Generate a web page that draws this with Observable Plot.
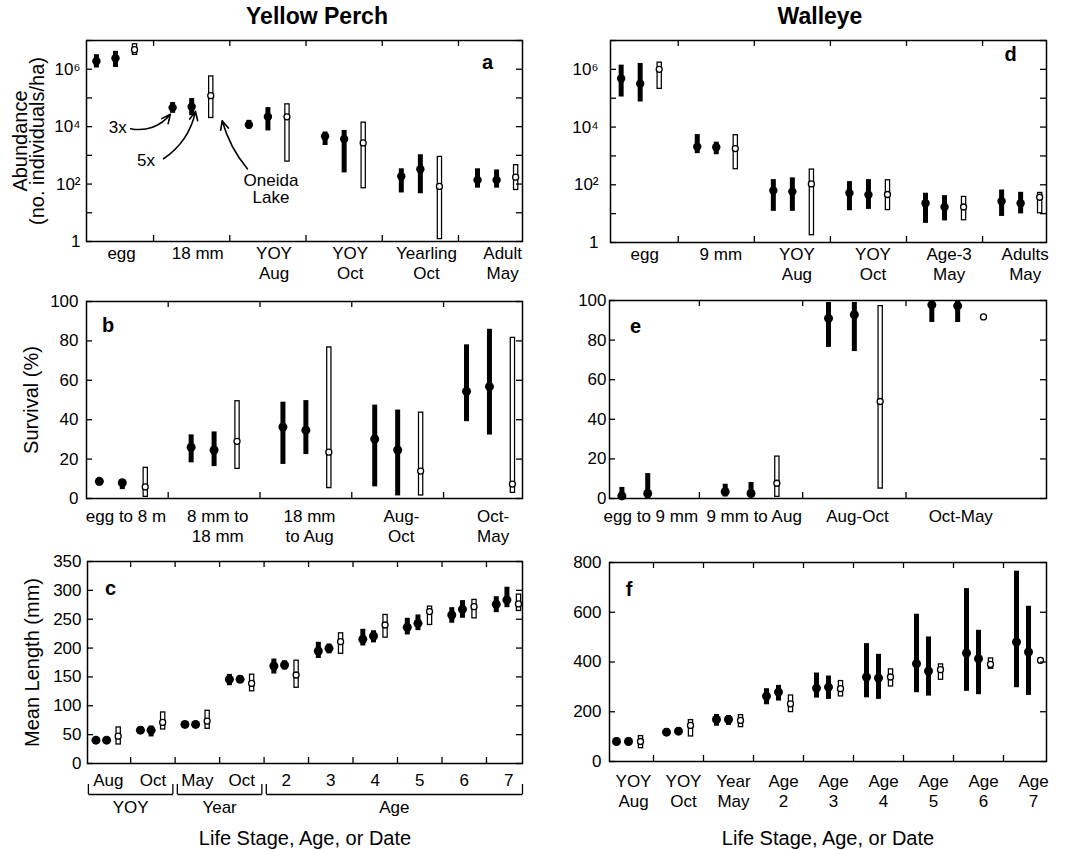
<!DOCTYPE html>
<html><head><meta charset="utf-8">
<script src="https://cdn.jsdelivr.net/npm/d3@7"></script>
<script src="https://cdn.jsdelivr.net/npm/@observablehq/plot@0.6"></script>
<style>
body{margin:0;background:#fff;font-family:"Liberation Sans",Arial,sans-serif;}
#root{position:relative;width:1070px;height:850px;overflow:hidden;}
.title{position:absolute;top:3px;font-weight:bold;font-size:23px;transform:translateX(-50%);white-space:nowrap;}
</style></head><body><div id="root">
<div class="title" style="left:317px">Yellow Perch</div>
<div class="title" style="left:820px">Walleye</div>
</div>
<script>
// ---------- DATA (value, low, high) ----------
const seriesNames = ["3x", "5x", "Oneida Lake"];

// (a) Yellow perch abundance
const perchAbundGroups = ["egg","18 mm","YOY\nAug","YOY\nOct","Yearling\nOct","Adult\nMay"];
const perchAbund3x = [[1.9e6,1.1e6,3.2e6],[4.6e4,2.9e4,6.9e4],[1.17e4,8.3e3,1.66e4],[4.6e3,2.2e3,6.5e3],[186,49,340],[138,72,340]];
const perchAbund5x = [[2.4e6,1.15e6,4.2e6],[4.9e4,2.4e4,9.5e4],[2.2e4,7.1e3,4.6e4],[3.7e3,245,7.4e3],[330,46,1050],[138,72,310]];
const perchAbundOneida = [[4.8e6,3.0e6,7.8e6],[1.2e5,1.9e4,5.9e5],[2.2e4,575,6.3e4],[2.7e3,68,1.45e4],[83,1.15,930],[174,59,480]];

// (d) Walleye abundance
const walleyeAbundGroups = ["egg","9 mm","YOY\nAug","YOY\nOct","Age-3\nMay","Adults\nMay"];
const walleyeAbund3x = [[4.8e5,1.1e5,1.4e6],[2.1e3,1.2e3,5.5e3],[63,12,151],[52,12.6,129],[23,4.6,51],[27,8,66]];
const walleyeAbund5x = [[3.2e5,7.4e4,1.6e6],[2.0e3,1.1e3,3.0e3],[58,12,174],[45,14,151],[17,5.6,42],[23,9.8,55]];
const walleyeAbundOneida = [[1.0e6,2.0e5,1.8e6],[1.8e3,330,5.5e3],[107,1.7,355],[46,12.6,151],[17,5.6,40],[37,9.8,55]];

// (b) Yellow perch survival
const perchSurvGroups = ["egg to 8 m","8 mm to\n18 mm","18 mm\nto Aug","Aug-\nOct","Oct-\nMay"];
const perchSurv3x = [[8.7,6.4,10],[26,18.1,32.3],[36.3,17.3,48.9],[30.2,5.9,47.4],[54.4,39,78]];
const perchSurv5x = [[8.0,4.5,9.5],[24.6,16.2,33.8],[34.7,22.3,49.7],[24.6,1.3,44.9],[56.8,32.2,85.9]];
const perchSurvOneida = [[5.9,0.5,15.9],[29,14.7,49.7],[23.5,5,77],[13.9,1.2,43.9],[7.3,2.5,81.9]];

// (e) Walleye survival
const walleyeSurvGroups = ["egg to 9 mm","9 mm to Aug","Aug-Oct","Oct-May"];
const walleyeSurv3x = [[1.3,0,5.6],[3.4,0.8,7.2],[91,76.3,99],[97.8,88.9,100]];
const walleyeSurv5x = [[2.5,0,12.6],[2.5,0.5,8.1],[92.8,74.2,99],[97.3,88.9,100]];
const walleyeSurvOneida = [null,[7.7,0.5,21.5],[49,4.7,97.5],[91.7,null,null]];

// (c) Yellow perch mean length
const perchLenGroups = ["Aug","Oct","May","Oct","2","3","4","5","6","7"];
const perchLenBrackets = [{label:"YOY", first:0, last:1},{label:"Year", first:2, last:3},{label:"Age", first:4, last:9}];
const perchLen3x = [[40.5,34.7,44.5],[57.8,50.9,63.6],[67.7,62.5,72],[145.8,134.8,154.4],[168.9,155,181],[194.9,182,210],[215.2,203.6,232.5],[236,222.7,251.6],[257.4,243,270],[275.9,261.4,289]];
const perchLen5x = [[40.5,35,44.5],[57.8,46,65],[67.7,63,72],[145.8,140.5,152],[170.6,162,178],[199.5,190,207],[220.9,209,230],[242.9,230.2,257.4],[267.2,251.6,282.2],[283.4,270,305.4]];
const perchLenOneida = [[47.4,31.8,63.6],[71.1,57.8,89.6],[73.5,59,92.5],[138.8,124,155],[153.3,130.1,179.3],[211.1,189,226.7],[240,216.9,258.5],[263.2,238.9,273],[271.8,250.4,284.6],[276.5,263.2,293.8]];

// (f) Walleye mean length
const walleyeLenGroups = ["YOY\nAug","YOY\nOct","Year\nMay","Age\n2","Age\n3","Age\n4","Age\n5","Age\n6","Age\n7"];
const walleyeLen3x = [[80.5,64,94],[118,102,131.5],[169,142,189],[263,228,292.6],[295,255,355.7],[339.6,256,473.8],[393,276.5,592],[436,282,695],[480.5,296.6,765]];
const walleyeLen5x = [[80.5,66,94],[122,106,135],[169,145,185],[279,243,306],[299,249.7,343.6],[335.6,249.7,430.9],[363.8,263,500.7],[413,268.5,527.5],[440,265.8,624]];
const walleyeLenOneida = [[80.5,51,104.7],[145,98,169],[165,135.6,189],[232,196,268],[292.6,259,326],[339.6,299,373],[369,326,393],[390.6,370,417],[406.7,393,417]];

// tick labels
const abundTicks = [1,10,1e2,1e3,1e4,1e5,1e6,1e7];
const abundTickLabels = [{v:1,t:"1"},{v:1e2,t:"10²"},{v:1e4,t:"10⁴"},{v:1e6,t:"10⁶"}];
const survTicks = [0,20,40,60,80,100];
const perchLenTicks = [0,50,100,150,200,250,300,350];
const walleyeLenTicks = [0,200,400,600,800];

// panel a annotations
const perchNotes = [
  {text:"3x", tx:0.03, ty:9.1e3, x1:0.2, y1:8.5e3, x2:0.72, y2:2.7e4, bend:-32},
  {text:"5x", tx:0.4, ty:650, x1:0.63, y1:760, x2:1.05, y2:3.4e4, bend:-22},
  {text:"Oneida\nLake", tx:2.04, ty:69, x1:1.73, y1:340, x2:1.40, y2:1.6e4, bend:12}
];

// ---------- DRAWING ----------
const root = document.getElementById("root");
const FONT = '"Liberation Sans", Arial, Helvetica, sans-serif';

function panel(cfg) {
  const {left, top, width, height, frame, xDomain, yOpts, groups, labelShift = 0, labelDy, yTicks, yLabels, tickPad,
         series, offsets, letter, letterDx, letterDy, yTitle, yTitleDx, extra = [], dotR = 4.5} = cfg;
  const [fx0, fy0, fx1, fy1] = frame;
  const mL = fx0 - left, mT = fy0 - top, mR = left + width - fx1, mB = top + height - fy1;
  const innerW = fx1 - fx0, innerH = fy1 - fy0;
  const pts = [];
  series.forEach((arr, s) => arr.forEach((v, g) => {
    if (v) pts.push({x: g + offsets[s], m: v[0], lo: v[1], hi: v[2], s: seriesNames[s], open: s === 2});
  }));
  const filled = pts.filter(d => !d.open), open = pts.filter(d => d.open);
  const bounds = d3.range(groups.length - 1).map(i => i + 0.5);
  const marks = [
    Plot.ruleX(filled.filter(d => d.lo != null), {x: "x", y1: "hi", y2: "lo", stroke: "black", strokeWidth: 5}),
    Plot.dot(filled, {x: "x", y: "m", r: dotR, fill: "black"}),
    Plot.ruleX(open.filter(d => d.lo != null), {x: "x", y1: "hi", y2: "lo", stroke: "black", strokeWidth: 5.5}),
    Plot.ruleX(open.filter(d => d.lo != null), {x: "x", y1: "hi", y2: "lo", stroke: "white", strokeWidth: 3, insetTop: 1.3, insetBottom: 1.3}),
    Plot.dot(open, {x: "x", y: "m", r: 3, fill: "white", stroke: "black", strokeWidth: 1.3}),
    // inward ticks
    Plot.ruleY(yTicks, {y: d => d, insetRight: innerW - 6, stroke: "black", strokeWidth: 1.3}),
    Plot.ruleY(yTicks, {y: d => d, insetLeft: innerW - 6, stroke: "black", strokeWidth: 1.3}),
    Plot.ruleX(bounds, {x: d => d, insetTop: innerH - 6, stroke: "black", strokeWidth: 1.3}),
    Plot.ruleX(bounds, {x: d => d, insetBottom: innerH - 6, stroke: "black", strokeWidth: 1.3}),
    Plot.frame({stroke: "black", strokeWidth: 1.5}),
    // y tick labels
    Plot.text(yLabels, {y: "v", text: "t", frameAnchor: "left", textAnchor: "end", dx: -tickPad, fontSize: 17}),
    // group labels
    Plot.text(groups, {x: (d, i) => i + labelShift, text: d => d, frameAnchor: "bottom", lineAnchor: "top", dy: labelDy, fontSize: 17, lineHeight: 1.2}),
    // panel letter
    Plot.text([letter], {text: d => d, frameAnchor: "top-left", dx: letterDx, dy: letterDy, fontSize: 20, fontWeight: "bold", textAnchor: "middle", lineAnchor: "middle"})
  ];
  if (yTitle) marks.push(Plot.text([yTitle], {text: d => d, frameAnchor: "left", dx: yTitleDx, rotate: -90, fontSize: 20, lineHeight: 0.85, textAnchor: "middle", lineAnchor: "middle"}));
  marks.push(...extra);
  const svg = Plot.plot({
    width, height, marginLeft: mL, marginRight: mR, marginTop: mT, marginBottom: mB,
    style: {fontFamily: FONT, fontSize: "17px", background: "transparent", overflow: "visible", color: "black"},
    x: {type: "linear", domain: xDomain, axis: null},
    y: {...yOpts, axis: null},
    marks
  });
  svg.style.position = "absolute";
  svg.style.left = left + "px";
  svg.style.top = top + "px";
  root.appendChild(svg);
  return svg;
}

const OFF = [-0.25, 0, 0.25];

// (a)
panel({
  left: 0, top: 30, width: 535, height: 262, frame: [86, 40, 522, 241],
  xDomain: [-0.38, 5.34], yOpts: {type: "log", domain: [1, 1e7]},
  groups: perchAbundGroups, labelShift: 0.08, labelDy: 3,
  yTicks: abundTicks, yLabels: abundTickLabels, tickPad: 6,
  series: [perchAbund3x, perchAbund5x, perchAbundOneida], offsets: OFF, dotR: 4.2,
  letter: "a", letterDx: 401, letterDy: 22,
  yTitle: "Abundance\n(no. individuals/ha)", yTitleDx: -56,
  extra: [
    ...perchNotes.map(n => Plot.arrow([n], {x1: "x1", y1: "y1", x2: "x2", y2: "y2", bend: n.bend, stroke: "black", strokeWidth: 1.6, headLength: 9, headAngle: 50})),
    Plot.text(perchNotes, {x: "tx", y: "ty", text: "text", fontSize: 17, lineHeight: 1.0})
  ]
});

// (d)
panel({
  left: 535, top: 30, width: 535, height: 262, frame: [610, 40, 1046, 242],
  xDomain: [-0.39, 5.34], yOpts: {type: "log", domain: [1, 1e7]},
  groups: walleyeAbundGroups, labelShift: 0.06, labelDy: 3,
  yTicks: abundTicks, yLabels: abundTickLabels, tickPad: 12,
  series: [walleyeAbund3x, walleyeAbund5x, walleyeAbundOneida], offsets: OFF, dotR: 4.2,
  letter: "d", letterDx: 400, letterDy: 14
});

// (b)
panel({
  left: 0, top: 292, width: 535, height: 252, frame: [86, 301, 522, 498],
  xDomain: [-0.39, 4.36], yOpts: {domain: [0, 100]},
  groups: perchSurvGroups, labelShift: 0.04, labelDy: 9,
  yTicks: survTicks, yLabels: survTicks.map(v => ({v, t: String(v)})), tickPad: 8,
  series: [perchSurv3x, perchSurv5x, perchSurvOneida], offsets: OFF,
  letter: "b", letterDx: 21.5, letterDy: 24,
  yTitle: "Survival (%)", yTitleDx: -54
});

// (e)
panel({
  left: 535, top: 292, width: 535, height: 252, frame: [609, 300, 1046, 498],
  xDomain: [-0.37, 3.86], yOpts: {domain: [0, 100]},
  groups: walleyeSurvGroups, labelShift: 0.03, labelDy: 9,
  yTicks: survTicks, yLabels: survTicks.map(v => ({v, t: String(v)})), tickPad: 3,
  series: [walleyeSurv3x, walleyeSurv5x, walleyeSurvOneida], offsets: OFF,
  letter: "e", letterDx: 26, letterDy: 26
});

// (c)
const cDomain = [-0.47, 9.31];
const bracketRows = perchLenBrackets.map(b => ({label: b.label, x1: Math.max(cDomain[0], b.first - 0.45), x2: Math.min(cDomain[1], b.last + 0.45)}));
const bracketEnds = bracketRows.flatMap(b => [b.x1, b.x2]);
panel({
  left: 0, top: 544, width: 535, height: 306, frame: [87, 561, 522, 763],
  xDomain: cDomain, yOpts: {domain: [0, 350]},
  groups: perchLenGroups, labelShift: 0, labelDy: 8,
  yTicks: perchLenTicks, yLabels: perchLenTicks.map(v => ({v, t: String(v)})), tickPad: 6,
  series: [perchLen3x, perchLen5x, perchLenOneida], offsets: [-0.28, -0.04, 0.22],
  letter: "c", letterDx: 23, letterDy: 27.5,
  yTitle: "Mean Length (mm)", yTitleDx: -54,
  extra: [
    Plot.link(bracketRows, {x1: "x1", x2: "x2", y1: 0, y2: 0, dy: 31, stroke: "black", strokeWidth: 1.3}),
    Plot.ruleX(bracketEnds, {x: d => d, y1: 0, y2: 0, insetTop: -10, dy: 31, stroke: "black", strokeWidth: 1.3}),
    Plot.text(bracketRows, {x: d => (d.x1 + d.x2) / 2, text: "label", frameAnchor: "bottom", lineAnchor: "top", dy: 37, fontSize: 17}),
    Plot.text(["Life Stage, Age, or Date"], {text: d => d, frameAnchor: "bottom", lineAnchor: "top", dy: 67, fontSize: 20})
  ]
});

// (f)
panel({
  left: 535, top: 544, width: 535, height: 306, frame: [609, 562, 1046, 761],
  xDomain: [-0.38, 8.36], yOpts: {domain: [0, 800]},
  groups: walleyeLenGroups, labelShift: 0.1, labelDy: 11,
  yTicks: walleyeLenTicks, yLabels: walleyeLenTicks.map(v => ({v, t: String(v)})), tickPad: 8,
  series: [walleyeLen3x, walleyeLen5x, walleyeLenOneida], offsets: [-0.24, 0, 0.24],
  letter: "f", letterDx: 19.5, letterDy: 27.5,
  extra: [
    Plot.text(["Life Stage, Age, or Date"], {text: d => d, frameAnchor: "bottom", lineAnchor: "top", dy: 69, fontSize: 20})
  ]
});
</script></body></html>
